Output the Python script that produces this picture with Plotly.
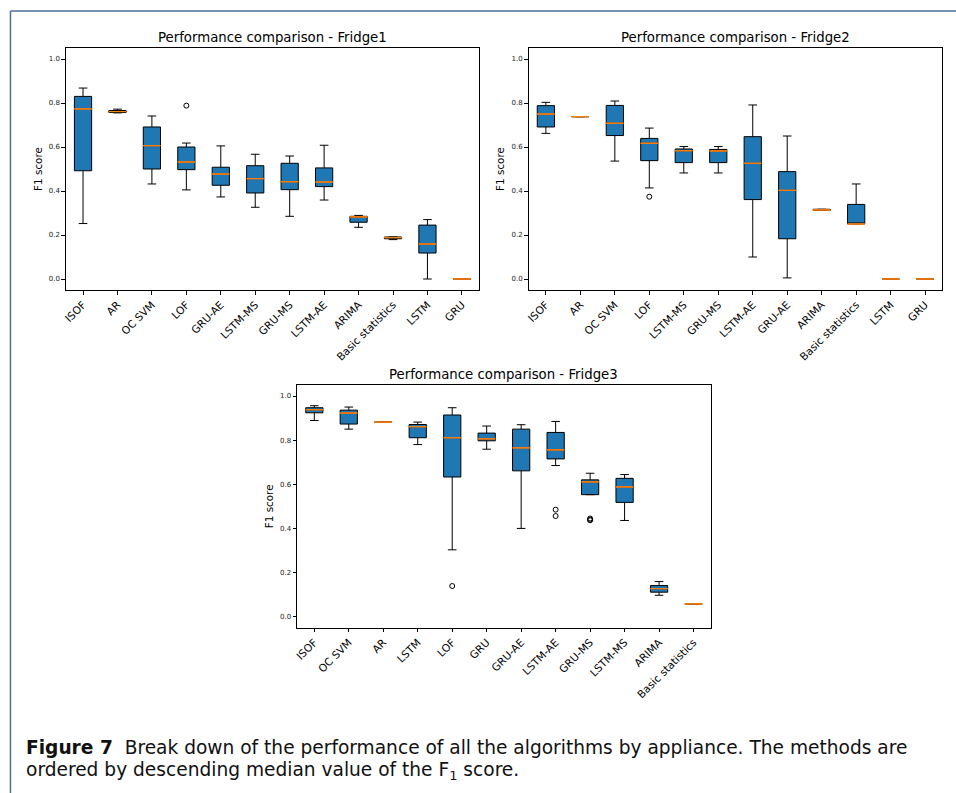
import plotly.graph_objects as go

# ---------------- data ----------------
cats1 = ["ISOF", "AR", "OC SVM", "LOF", "GRU-AE", "LSTM-MS", "GRU-MS", "LSTM-AE",
         "ARIMA", "Basic statistics", "LSTM", "GRU"]
low1 = [0.252, 0.755, 0.432, 0.405, 0.373, 0.326, 0.285, 0.359, 0.235, 0.179, 0.000, 0.0]
q1_1 = [0.492, 0.757, 0.500, 0.497, 0.426, 0.391, 0.406, 0.420, 0.258, 0.183, 0.118, 0.0]
med1 = [0.773, 0.761, 0.606, 0.532, 0.477, 0.456, 0.442, 0.441, 0.282, 0.188, 0.159, 0.0]
q3_1 = [0.830, 0.766, 0.691, 0.600, 0.508, 0.515, 0.526, 0.505, 0.285, 0.191, 0.245, 0.0]
high1 = [0.868, 0.772, 0.741, 0.618, 0.605, 0.567, 0.559, 0.608, 0.289, 0.191, 0.270, 0.0]
out1_cat = ["LOF"]
out1_val = [0.788]

cats2 = ["ISOF", "AR", "OC SVM", "LOF", "LSTM-MS", "GRU-MS", "LSTM-AE", "GRU-AE",
         "ARIMA", "Basic statistics", "LSTM", "GRU"]
low2 = [0.662, 0.738, 0.536, 0.414, 0.482, 0.482, 0.100, 0.005, 0.312, 0.250, 0.0, 0.0]
q1_2 = [0.691, 0.738, 0.652, 0.538, 0.529, 0.529, 0.361, 0.183, 0.312, 0.250, 0.0, 0.0]
med2 = [0.750, 0.738, 0.708, 0.617, 0.583, 0.582, 0.526, 0.403, 0.314, 0.250, 0.0, 0.0]
q3_2 = [0.788, 0.738, 0.789, 0.639, 0.591, 0.589, 0.647, 0.488, 0.317, 0.339, 0.0, 0.0]
high2 = [0.803, 0.738, 0.809, 0.686, 0.602, 0.602, 0.791, 0.650, 0.317, 0.432, 0.0, 0.0]
out2_cat = ["LOF"]
out2_val = [0.374]

cats3 = ["ISOF", "OC SVM", "AR", "LSTM", "LOF", "GRU", "GRU-AE", "LSTM-AE",
         "GRU-MS", "LSTM-MS", "ARIMA", "Basic statistics"]
low3 = [0.889, 0.850, 0.882, 0.780, 0.303, 0.759, 0.400, 0.685, 0.553, 0.436, 0.097, 0.058]
q1_3 = [0.924, 0.873, 0.882, 0.811, 0.633, 0.797, 0.661, 0.715, 0.553, 0.518, 0.111, 0.058]
med3 = [0.938, 0.923, 0.882, 0.861, 0.811, 0.806, 0.765, 0.756, 0.611, 0.588, 0.127, 0.058]
q3_3 = [0.947, 0.936, 0.882, 0.871, 0.914, 0.832, 0.850, 0.835, 0.620, 0.627, 0.141, 0.058]
high3 = [0.956, 0.950, 0.882, 0.882, 0.947, 0.864, 0.870, 0.885, 0.650, 0.644, 0.159, 0.058]
out3_cat = ["LOF", "LSTM-AE", "LSTM-AE", "GRU-MS", "GRU-MS", "GRU-MS"]
out3_val = [0.139, 0.485, 0.456, 0.445, 0.440, 0.437]

titles = ["Performance comparison - Fridge1",
          "Performance comparison - Fridge2",
          "Performance comparison - Fridge3"]
y_ticks = [0.0, 0.2, 0.4, 0.6, 0.8, 1.0]

# ---------------- figure ----------------
W, H = 956, 793
BLUE = "#1f77b4"
ORANGE = "#ff7f0e"
FONT = "DejaVu Sans"

fig = go.Figure()

panels = [
    (cats1, low1, q1_1, med1, q3_1, high1, out1_cat, out1_val),
    (cats2, low2, q1_2, med2, q3_2, high2, out2_cat, out2_val),
    (cats3, low3, q1_3, med3, q3_3, high3, out3_cat, out3_val),
]

# axis boxes in pixels (left, right, top, bottom)
boxes_px = [(63, 477.6, 48, 290), (527.3, 942.3, 48, 290), (295, 710, 385, 627.7)]

for i, (cats, lo, q1, md, q3, hi, oc, ov) in enumerate(panels):
    xa = "x" if i == 0 else f"x{i+1}"
    ya = "y" if i == 0 else f"y{i+1}"
    fig.add_trace(go.Box(
        x=cats, q1=q1, median=md, q3=q3, lowerfence=lo, upperfence=hi,
        boxpoints=False, fillcolor=BLUE, line=dict(color="black", width=1),
        width=0.5, whiskerwidth=0.5, xaxis=xa, yaxis=ya, showlegend=False,
        hoverinfo="skip"))
    # orange median line drawn as a zero-height box on top
    fig.add_trace(go.Box(
        x=cats, q1=md, median=md, q3=md, lowerfence=md, upperfence=md,
        boxpoints=False, fillcolor="rgba(0,0,0,0)", line=dict(color=ORANGE, width=1),
        width=0.5, whiskerwidth=0, xaxis=xa, yaxis=ya, showlegend=False,
        hoverinfo="skip"))
    fig.add_trace(go.Scatter(
        x=oc, y=ov, mode="markers",
        marker=dict(symbol="circle-open", size=5, color="black", line=dict(width=1)),
        xaxis=xa, yaxis=ya, showlegend=False, hoverinfo="skip"))

    l, r, t, b = boxes_px[i]
    sfx = "" if i == 0 else str(i + 1)
    fig.layout["xaxis" + sfx] = dict(
        domain=[l / W, r / W], anchor=ya, type="category",
        categoryorder="array", categoryarray=cats, range=[-0.5, len(cats) - 0.5],
        showline=True, mirror=True, linecolor="black", linewidth=1,
        ticks="outside", ticklen=3.5, tickwidth=0.8, tickcolor="black",
        tickangle=-45, tickfont=dict(family=FONT, size=10.6, color="black"),
        showgrid=False, zeroline=False)
    fig.layout["yaxis" + sfx] = dict(
        domain=[1 - b / H, 1 - t / H], anchor=xa, range=[-0.05, 1.05],
        tickvals=y_ticks, tickformat=".1f",
        showline=True, mirror=True, linecolor="black", linewidth=1,
        ticks="outside", ticklen=3.5, tickwidth=0.8, tickcolor="black",
        tickfont=dict(family=FONT, size=7, color="#222"),
        title=dict(text="F1 score", font=dict(family=FONT, size=10.4, color="black"),
                   standoff=4),
        showgrid=False, zeroline=False)
    fig.add_annotation(
        text=titles[i], xref="paper", yref="paper", x=(l + r) / 2 / W, y=1 - t / H,
        xanchor="center", yanchor="bottom", yshift=1, showarrow=False,
        font=dict(family=FONT, size=13.3, color="black"))

# page frame lines
FRAME = "#4f6f99"
fig.add_shape(type="line", xref="paper", yref="paper", x0=7.5 / W, x1=1, y0=1 - 11 / H, y1=1 - 11 / H,
              line=dict(color=FRAME, width=1.5))
fig.add_shape(type="line", xref="paper", yref="paper", x0=7.5 / W, x1=7.5 / W, y0=0, y1=1 - 11 / H,
              line=dict(color=FRAME, width=1.5))

# caption
CAP_FONT = "DejaVu Sans"
fig.add_annotation(
    text="<b>Figure 7</b>  Break down of the performance of all the algorithms by appliance. The methods are",
    xref="paper", yref="paper", x=21 / W, y=1 - 747 / H, xanchor="left", yanchor="middle",
    showarrow=False, font=dict(family=CAP_FONT, size=18.6, color="#111"))
fig.add_annotation(
    text="ordered by descending median value of the F<sub>1</sub> score.",
    xref="paper", yref="paper", x=21 / W, y=1 - 771 / H, xanchor="left", yanchor="middle",
    showarrow=False, font=dict(family=CAP_FONT, size=18.6, color="#111"))

fig.update_layout(
    width=W, height=H, margin=dict(l=0, r=0, t=0, b=0),
    paper_bgcolor="white", plot_bgcolor="white", boxmode="overlay",
    font=dict(family=FONT))

fig.write_html("out.html")
